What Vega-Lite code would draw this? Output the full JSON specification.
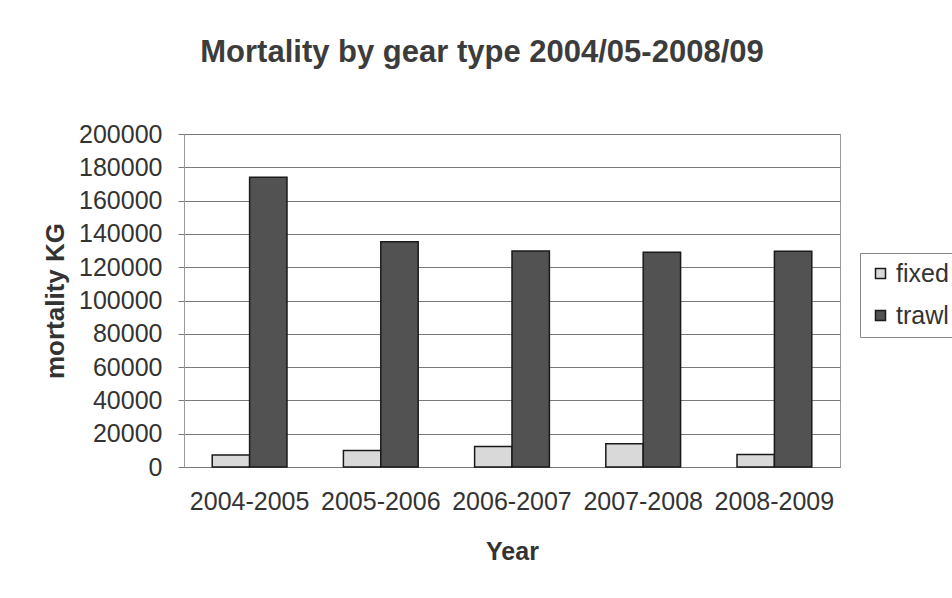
{
  "$schema": "https://vega.github.io/schema/vega-lite/v6.json",
  "width": 656,
  "height": 333,
  "autosize": {"type": "none"},
  "padding": {"left": 184, "top": 134, "right": 112, "bottom": 131},
  "background": "#ffffff",
  "title": {
    "text": "Mortality by gear type 2004/05-2008/09",
    "font": "Liberation Sans",
    "fontSize": 31,
    "fontWeight": "bold",
    "color": "#3c3c3c",
    "anchor": "middle",
    "dx": -30,
    "offset": 53
  },
  "data": {
    "values": [
      {"year": "2004-2005", "gear": "fixed", "mortality": 7200},
      {"year": "2004-2005", "gear": "trawl", "mortality": 174000},
      {"year": "2005-2006", "gear": "fixed", "mortality": 9900},
      {"year": "2005-2006", "gear": "trawl", "mortality": 135300},
      {"year": "2006-2007", "gear": "fixed", "mortality": 12300},
      {"year": "2006-2007", "gear": "trawl", "mortality": 129800},
      {"year": "2007-2008", "gear": "fixed", "mortality": 13900},
      {"year": "2007-2008", "gear": "trawl", "mortality": 129000},
      {"year": "2008-2009", "gear": "fixed", "mortality": 7500},
      {"year": "2008-2009", "gear": "trawl", "mortality": 129600}
    ]
  },
  "mark": {"type": "bar", "stroke": "#1a1a1a", "strokeWidth": 1.5},
  "encoding": {
    "x": {
      "field": "year",
      "type": "nominal",
      "title": "Year",
      "scale": {"paddingInner": 0.43, "paddingOuter": 0.215},
      "axis": {
        "labelAngle": 0,
        "labelFont": "Liberation Sans",
        "labelFontSize": 25,
        "labelColor": "#333333",
        "labelPadding": 22,
        "titleFont": "Liberation Sans",
        "titleFontSize": 25,
        "titleFontWeight": "bold",
        "titleColor": "#333333",
        "titlePadding": 25,
        "domainColor": "#777777",
        "ticks": false,
        "grid": false
      }
    },
    "xOffset": {
      "field": "gear",
      "type": "nominal",
      "scale": {"paddingInner": 0, "paddingOuter": 0}
    },
    "y": {
      "field": "mortality",
      "type": "quantitative",
      "title": "mortality KG",
      "scale": {"domain": [0, 200000], "nice": false},
      "axis": {
        "values": [0, 20000, 40000, 60000, 80000, 100000, 120000, 140000, 160000, 180000, 200000],
        "format": "d",
        "labelFont": "Liberation Sans",
        "labelFontSize": 25,
        "labelColor": "#333333",
        "labelPadding": 16,
        "tickSize": 6,
        "tickColor": "#777777",
        "domainColor": "#999999",
        "gridColor": "#7a7a7a",
        "gridWidth": 1,
        "titleFont": "Liberation Sans",
        "titleFontSize": 26,
        "titleFontWeight": "bold",
        "titleColor": "#333333",
        "titlePadding": 10
      }
    },
    "fill": {
      "field": "gear",
      "type": "nominal",
      "title": null,
      "scale": {"domain": ["fixed", "trawl"], "range": ["#d9d9d9", "#525252"]},
      "legend": {
        "orient": "none",
        "legendX": 676,
        "legendY": 119,
        "symbolType": "square",
        "symbolSize": 100,
        "symbolStrokeColor": "#1a1a1a",
        "symbolStrokeWidth": 1.5,
        "labelFont": "Liberation Sans",
        "labelFontSize": 25,
        "labelColor": "#333333",
        "labelOffset": 3,
        "rowPadding": 16,
        "padding": 8,
        "strokeColor": "#888888",
        "fillColor": "#ffffff"
      }
    }
  },
  "config": {
    "view": {"stroke": "#9a9a9a", "strokeWidth": 1}
  }
}
